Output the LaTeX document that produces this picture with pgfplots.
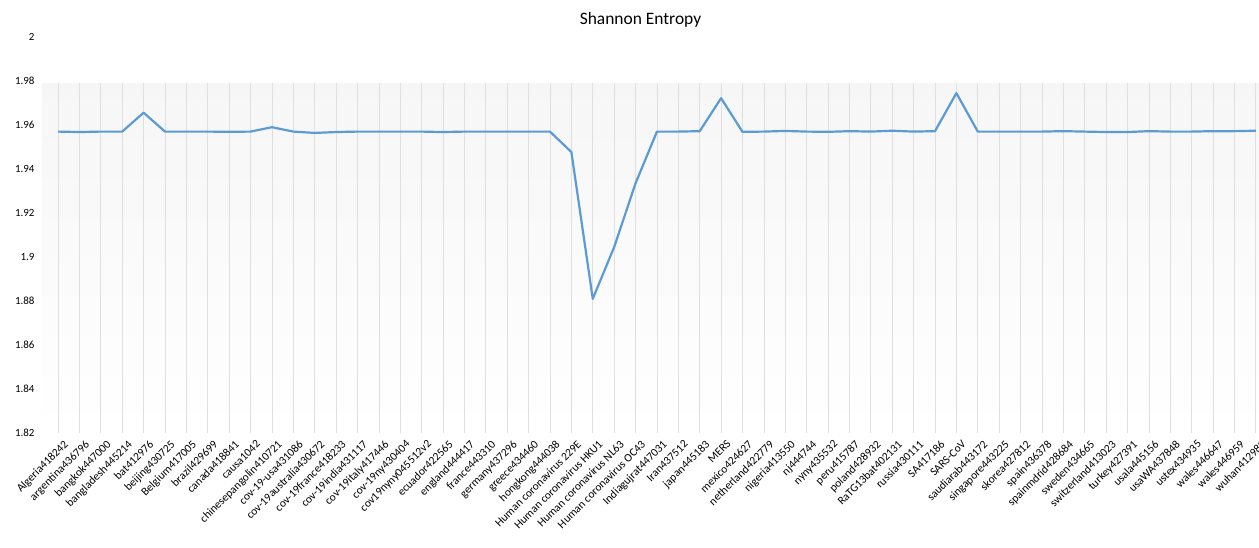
\documentclass[border=0pt]{standalone}
\usepackage{pgfplots}
\pgfplotsset{compat=1.18}
\usepackage{fontspec}
\setmainfont{Carlito}
\definecolor{exblue}{HTML}{5B9BD5}
\begin{document}
\begin{tikzpicture}
\path[use as bounding box] (-42bp,-115bp) rectangle (1217bp,433bp);
\begin{axis}[
  scale only axis,
  width=1217bp, height=396bp,
  xmin=-0.75, xmax=56.15,
  ymin=1.82, ymax=2,
  ytick={1.82,1.84,...,2.001},
  xtick=data,
  xticklabels={Algeria418242,argentina436796,bangkok447000,bangladesh445214,bat412976,beijing430725,Belgium417005,brazil429699,canada418841,causa1042,chinesepangolin410721,cov-19-usa431086,cov-19australia430672,cov-19france418233,cov-19india431117,cov-19italy417446,cov-19ny430404,cov19nyny045512v2,ecuador422565,england444417,france443310,germany437296,greece434460,hongkong444038,Human coronavirus 229E,Human coronavirus HKU1,Human coronavirus NL63,Human coronavirus OC43,Indiagujrat447031,Iran437512,japan445183,MERS,mexico424627,netherland422779,nigeria413550,nj444744,nyny435532,peru415787,poland428932,RaTG13bat402131,russia430111,SA417186,SARS-CoV,saudiarab443172,singapore443225,skorea427812,spain436378,spainmdrid428684,sweden434665,switzerland413023,turkey427391,usala445156,usaWA437848,ustex434935,wales446647,wales446959,wuhan412980},
  x tick label style={rotate=45, anchor=north east, font=\fontsize{11.5}{12}\selectfont, inner sep=1pt, yshift=-7pt},
  y tick label style={font=\fontsize{11}{12}\selectfont, xshift=-4pt},
  /pgf/number format/assume math mode=true,
  yticklabel style={/pgf/number format/.cd, fixed, precision=2},
  major tick length=0pt,
  axis x line*=bottom,
  axis y line*=left,
  x axis line style={draw=gray!35, -},
  y axis line style={draw=none},
  title={Shannon Entropy},
  title style={font=\fontsize{17.5}{19}\selectfont, xshift=-10bp},
  clip=false,
]
\fill[top color=gray!7, bottom color=white, draw=none] (axis cs:-0.75,1.82) rectangle (axis cs:56.15,1.979);
\pgfplotsinvokeforeach{0,...,56}{
  \draw[gray!25, line width=0.7pt] (axis cs:#1,1.82) -- (axis cs:#1,1.979);
}
\addplot[exblue, line width=2.2pt, line join=round] coordinates {
(0,1.9570) (1,1.9568) (2,1.9570) (3,1.9570) (4,1.9656) (5,1.9570) (6,1.9570) (7,1.9570)
(8,1.9569) (9,1.9570) (10,1.9590) (11,1.9570) (12,1.9564) (13,1.9568) (14,1.9570) (15,1.9570)
(16,1.9570) (17,1.9570) (18,1.9568) (19,1.9570) (20,1.9570) (21,1.9570) (22,1.9570) (23,1.9570)
(24,1.9477) (25,1.8810) (26,1.9045) (27,1.9335) (28,1.9570) (29,1.9570) (30,1.9572) (31,1.9722)
(32,1.9569) (33,1.9570) (34,1.9573) (35,1.9570) (36,1.9569) (37,1.9572) (38,1.9570) (39,1.9574)
(40,1.9570) (41,1.9572) (42,1.9745) (43,1.9570) (44,1.9570) (45,1.9570) (46,1.9570) (47,1.9572)
(48,1.9570) (49,1.9568) (50,1.9568) (51,1.9572) (52,1.9570) (53,1.9570) (54,1.9572) (55,1.9572)
(56,1.9574)
};
\end{axis}
\end{tikzpicture}
\end{document}
